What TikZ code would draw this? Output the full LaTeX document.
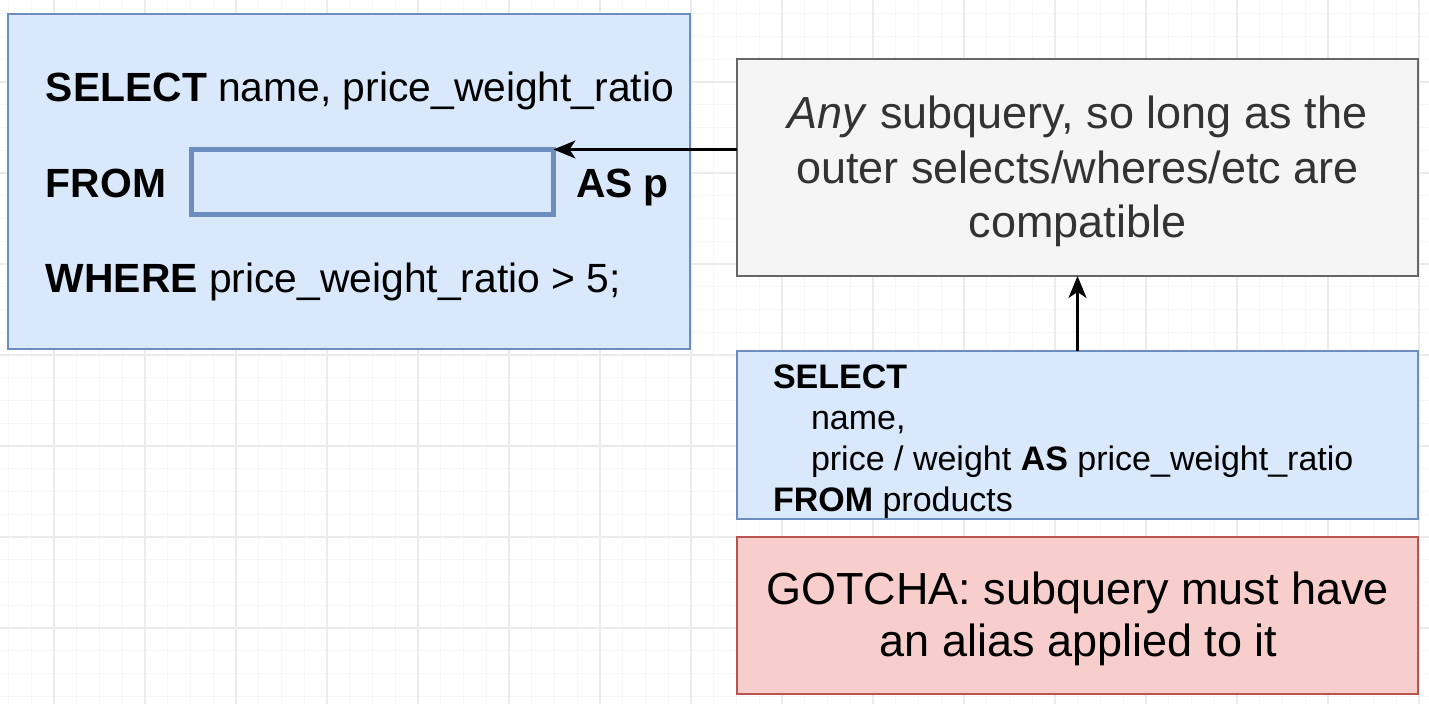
\documentclass[tikz,border=0pt]{standalone}
\usepackage{fontspec}
\setmainfont{Liberation Sans}
\usetikzlibrary{arrows.meta}
\definecolor{bluefill}{HTML}{DAE8FC}
\definecolor{bluedraw}{HTML}{6C8EBF}
\definecolor{grayfill}{HTML}{F5F5F5}
\definecolor{graydraw}{HTML}{666666}
\definecolor{graytext}{HTML}{333333}
\definecolor{redfill}{HTML}{F8CECC}
\definecolor{reddraw}{HTML}{B85450}
\definecolor{gridminor}{HTML}{F6F6F6}
\definecolor{gridmajor}{HTML}{EBEBEB}
\begin{document}
\begin{tikzpicture}[x=0.5pt,y=-0.5pt,
  box/.style={draw, line width=1.1pt, inner sep=0pt, outer sep=0pt},
  bluebox/.style={box, fill=bluefill, draw=bluedraw},
  graybox/.style={box, fill=grayfill, draw=graydraw},
  redbox/.style={box, fill=redfill, draw=reddraw},
  holebox/.style={draw=bluedraw, line width=2.5pt, inner sep=0pt, outer sep=0pt,
    minimum width=181pt, minimum height=32.5pt},
  wide/.style={minimum width=340.5pt},
  txt/.style={inner sep=0pt, outer sep=0pt},
  bigtxt/.style={txt, font=\fontsize{20.4pt}{24pt}\selectfont},
  notetxt/.style={txt, text=graytext, font=\fontsize{22.5pt}{27pt}\selectfont},
  codetxt/.style={txt, font=\fontsize{17pt}{20pt}\selectfont},
  warntxt/.style={txt, font=\fontsize{22.5pt}{27pt}\selectfont},
  minorline/.style={draw=gridminor, line width=0.5pt},
  majorline/.style={draw=gridmajor, line width=0.6pt},
  arr/.style={draw=black, line width=1.1pt, -{Stealth[length=11pt,width=9pt,inset=3pt]}},
]
\useasboundingbox (0,0) rectangle (1429,704);
\fill[white] (0,0) rectangle (1429,704);
% background grid
\foreach \i in {0,...,62} {\draw[minorline] ({8.5+22.75*\i},0) -- ({8.5+22.75*\i},704);}
\foreach \j in {0,...,30} {\draw[minorline] (0,{13.75+22.75*\j}) -- (1429,{13.75+22.75*\j});}
\foreach \i in {0,...,15} {\draw[majorline] ({54+91*\i},0) -- ({54+91*\i},704);}
\foreach \j in {0,...,6} {\draw[majorline] (0,{82+91*\j}) -- (1429,{82+91*\j});}

% outer query box
\node[bluebox, minimum width=341pt, minimum height=167.5pt] (outer) at (349,181.5) {};
\node[holebox] (sub) at (372.5,182) {};
\node[bigtxt, anchor=base west] (l1) at (46,102) {\textbf{SELECT} name, price\_weight\_ratio};
\node[bigtxt, anchor=base west] (l2) at (46,198) {\textbf{FROM}};
\node[bigtxt, anchor=base west] (l3) at (576,198) {\textbf{AS p}};
\node[bigtxt, anchor=base west] (l4) at (46,293) {\textbf{WHERE} price\_weight\_ratio > 5;};

% note box
\node[graybox, wide, minimum height=108.5pt] (gray) at (1077.5,167.5) {};
\node[notetxt, anchor=base] (g1) at (1077.5,129) {\textit{Any} subquery, so long as the};
\node[notetxt, anchor=base] (g2) at (1077.5,184) {outer selects/wheres/etc are};
\node[notetxt, anchor=base] (g3) at (1077.5,238) {compatible};

% subquery box
\node[bluebox, wide, minimum height=84pt] (inner) at (1077.5,435) {};
\node[codetxt, anchor=base west] (c1) at (773,389) {\textbf{SELECT}};
\node[codetxt, anchor=base west] (c2) at (811,430) {name,};
\node[codetxt, anchor=base west] (c3) at (811,471) {price / weight \textbf{AS} price\_weight\_ratio};
\node[codetxt, anchor=base west] (c4) at (773,512) {\textbf{FROM} products};

% gotcha box
\node[redbox, wide, minimum height=78.5pt] (red) at (1077.5,615.5) {};
\node[warntxt, anchor=base] (r1) at (1077.5,605) {GOTCHA: subquery must have};
\node[warntxt, anchor=base] (r2) at (1078.5,657) {an alias applied to it};

% connectors
\draw[arr] (gray.west |- sub.north east) -- (sub.north east);
\draw[arr] (inner.north) -- (gray.south);
\end{tikzpicture}
\end{document}
